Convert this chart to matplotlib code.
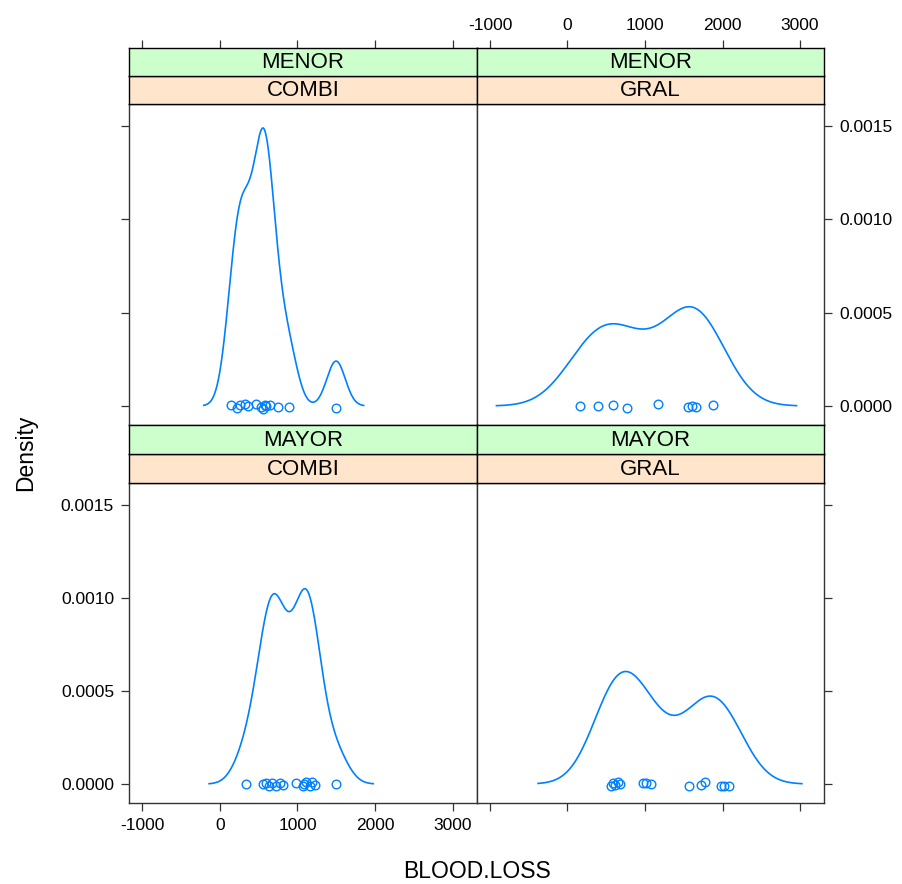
import numpy as np
import matplotlib
matplotlib.use("Agg")
import matplotlib.pyplot as plt

plt.rcParams['font.family'] = ['Liberation Sans', 'DejaVu Sans']

# ---- data (BLOOD.LOSS observations per panel) ----
combi_menor = [150, 222, 256, 321, 363, 470, 535, 560, 577, 600, 641, 748, 897, 1496]
gral_menor = [167, 397, 590, 773, 1170, 1555, 1600, 1658, 1872]
combi_mayor = [342, 560, 600, 630, 670, 727, 769, 812, 983, 1068, 1090, 1110,
               1160, 1190, 1230, 1496]
gral_mayor = [564, 585, 619, 650, 679, 970, 1013, 1077, 1568, 1718, 1773, 1974,
              2017, 2081]

# vertical jitter of the rug points (density units x 1e-5)
jit_combi_menor = [0.3, -1.2, 0.5, 0.8, 0.2, 0.9, -0.8, -1.4, 0.6, -0.2, 0.4, -0.6, -0.5, -1.0]
jit_gral_menor = [0.2, 0.1, 0.6, -0.9, 0.8, -0.4, 0.1, -0.3, 0.7]
jit_combi_mayor = [0.2, 0.0, 0.3, -0.9, 0.6, -1.2, 0.8, -0.5, 0.4, -1.3, -0.2, 1.1,
                   -0.8, 1.0, -0.3, 0.1]
jit_gral_mayor = [-1.2, 0.4, -0.6, 1.0, 0.2, 0.5, 0.3, 0.0, -0.8, -0.6, 1.3, -0.9, -1.1, -1.0]

strip_outer = ['MENOR', 'MENOR', 'MAYOR', 'MAYOR']
strip_inner = ['COMBI', 'GRAL', 'COMBI', 'GRAL']
x_ticks = [-1000, 0, 1000, 2000, 3000]
x_tick_labels = ['-1000', '0', '1000', '2000', '3000']
y_ticks = [0.0, 0.0005, 0.0010, 0.0015]
y_tick_labels = ['0.0000', '0.0005', '0.0010', '0.0015']

panels = [(combi_menor, jit_combi_menor), (gral_menor, jit_gral_menor),
          (combi_mayor, jit_combi_mayor), (gral_mayor, jit_gral_mayor)]

COL = '#0080ff'
GREEN = '#ccffcc'
ORANGE = '#ffe5cc'
FRAME = '#333333'


def bw_nrd0(x):
    x = np.asarray(x, float)
    hi = x.std(ddof=1)
    q75, q25 = np.percentile(x, [75, 25])
    lo = min(hi, (q75 - q25) / 1.34)
    return 0.9 * lo * len(x) ** -0.2


def kde(x):
    x = np.asarray(x, float)
    bw = bw_nrd0(x)
    grid = np.linspace(x.min() - 3 * bw, x.max() + 3 * bw, 512)
    d = np.exp(-0.5 * ((grid[:, None] - x[None, :]) / bw) ** 2).sum(1)
    d /= len(x) * bw * np.sqrt(2 * np.pi)
    return grid, d


W, H = 902, 884
fig = plt.figure(figsize=(W / 100, H / 100), dpi=100)


def rect(x0, x1, y0, y1):
    return [x0 / W, 1 - y1 / H, (x1 - x0) / W, (y1 - y0) / H]


cols = [(129, 477), (477, 824)]
rows = [dict(panel=(104, 425), green=(48, 76), orange=(76, 104)),
        dict(panel=(483, 803), green=(425, 454), orange=(454, 483))]

XLIM = (-1167, 3309)
YLIM = (-0.000102, 0.001618)
TICK_FS = 12.5
STRIP_FS = 16
LAB_FS = 16.5
TLEN = 5.8
TPAD = 5

for i, (vals, jit) in enumerate(panels):
    r, c = divmod(i, 2)
    x0, x1 = cols[c]
    py0, py1 = rows[r]['panel']
    ax = fig.add_axes(rect(x0, x1, py0, py1))
    gx, gd = kde(vals)
    ax.plot(gx, gd, color=COL, lw=1.2)
    ax.plot(vals, np.asarray(jit) * 1e-5, 'o', mfc='none', mec=COL, ms=6.2, mew=1.0,
            clip_on=False)
    ax.set_xlim(*XLIM)
    ax.set_ylim(*YLIM)
    for s in ax.spines.values():
        s.set_linewidth(1.0)
        s.set_color(FRAME)
    ax.set_xticks(x_ticks)
    ax.set_xticklabels(x_tick_labels)
    ax.set_yticks(y_ticks)
    ax.set_yticklabels(y_tick_labels)
    ax.tick_params(direction='out', length=TLEN, width=0.9, labelsize=TICK_FS,
                   pad=TPAD, color=FRAME,
                   top=False, labeltop=False,
                   bottom=(r == 1), labelbottom=(r == 1 and c == 0),
                   left=(c == 0), labelleft=(c == 0 and r == 1),
                   right=(c == 1), labelright=(c == 1 and r == 0))

    # strips
    for key, fc, txt in (('orange', ORANGE, strip_inner[i]), ('green', GREEN, strip_outer[i])):
        sy0, sy1 = rows[r][key]
        sax = fig.add_axes(rect(x0, x1, sy0, sy1))
        sax.set_facecolor(fc)
        sax.set_xlim(*XLIM)
        sax.set_ylim(0, 1)
        for s in sax.spines.values():
            s.set_linewidth(1.0)
            s.set_color('black')
        sax.text(0.5, 0.48, txt, transform=sax.transAxes, ha='center', va='center',
                 fontsize=STRIP_FS)
        sax.set_yticks([])
        if key == 'green' and r == 0:
            sax.set_xticks(x_ticks)
            sax.set_xticklabels(x_tick_labels)
            sax.tick_params(direction='out', length=TLEN, width=0.9, labelsize=TICK_FS,
                            pad=TPAD, color=FRAME, bottom=False, labelbottom=False,
                            top=True, labeltop=(c == 1))
        else:
            sax.set_xticks([])

fig.text(476.5 / W, 1 - 872 / H, 'BLOOD.LOSS', ha='center', va='center', fontsize=LAB_FS)
fig.text(26 / W, 1 - 453 / H, 'Density', ha='center', va='center', rotation=90,
         fontsize=LAB_FS)

fig.savefig('out.png', dpi=100, facecolor='white')
